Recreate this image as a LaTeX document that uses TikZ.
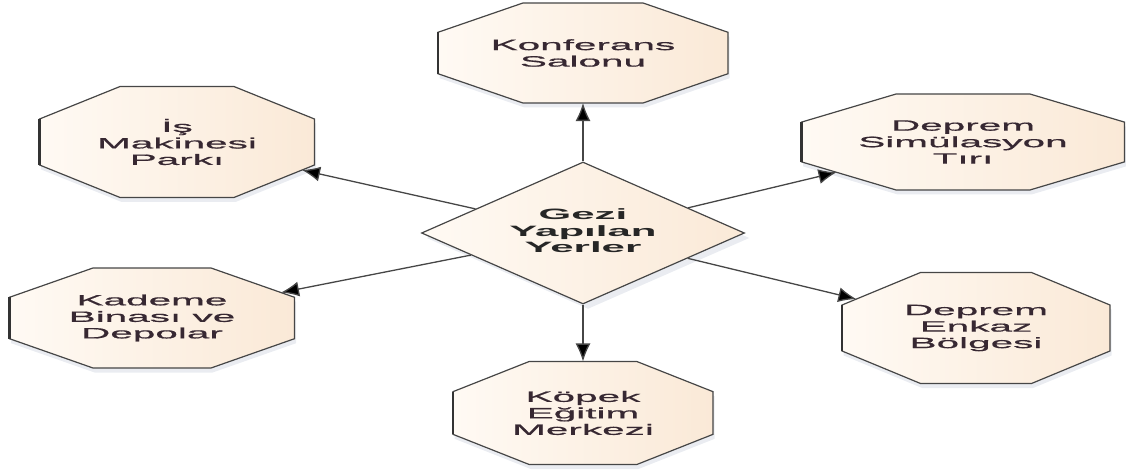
\documentclass[tikz,border=0pt]{standalone}
\usepackage{fontspec}
\usepackage{graphicx}
\setmainfont{Liberation Sans}
\newfontfamily\boxfont[FakeStretch=2.7,FakeBold=0.8]{Liberation Sans}
\usetikzlibrary{shapes.geometric,shadows,arrows.meta}

\definecolor{peach}{RGB}{250,233,215}
\definecolor{peachlight}{RGB}{255,250,244}
\definecolor{edgegray}{RGB}{70,70,70}
\definecolor{labeltext}{RGB}{55,40,50}
\definecolor{shadowblue}{RGB}{170,180,200}

% stretched bold lines for the centre
\newcommand{\hubtext}[1]{\scalebox{2.8}[1]{\fontsize{15}{16.5}\selectfont\bfseries
  \begin{tabular}{@{}c@{}}#1\end{tabular}}}

\tikzset{
  place/.style 2 args={regular polygon, regular polygon sides=8,
    minimum size=100pt, inner sep=0pt, outer sep=0pt,
    xscale=#1/92.388, yscale=#2/92.388, transform shape,
    draw=edgegray, line width=1.2pt,
    left color=peachlight, right color=peach,
    drop shadow={shadow xshift=1.6pt, shadow yshift=-4.5pt, opacity=0.25,
      fill=shadowblue},
    append after command={
      (\tikzlastnode.corner 3) edge[draw=black!80, line width=2.6pt]
      (\tikzlastnode.corner 4)}},
  placetext/.style={align=center, text=labeltext,
    font=\boxfont\fontsize{15}{16.5}\selectfont},
  hub/.style={diamond, aspect=2.27, draw=edgegray, line width=1.2pt,
    left color=peachlight, right color=peach, inner sep=0pt,
    text=black!85,
    minimum width=323pt, minimum height=142pt,
    drop shadow={shadow xshift=5pt, shadow yshift=-5pt, opacity=0.25,
      fill=shadowblue}},
  link/.style={draw=edgegray, line width=1.3pt,
    -{Latex[length=18pt,width=15pt,fill=black]}}
}

\begin{document}
\begin{tikzpicture}[x=1pt,y=-1pt]
    \useasboundingbox (0,0) rectangle (1126,470);

    % Places
    \node [place={290}{100}] (konferans)  at (583, 53) {};
    \node [place={275}{111}] (makine)     at (177,142) {};
    \node [place={285}{100}] (kademe)     at (152,318) {};
    \node [place={323}{96}]  (simulasyon) at (963,142) {};
    \node [place={268}{111}] (enkaz)      at (976,328) {};
    \node [place={260}{103}] (kopek)      at (583,413) {};

    % Place names
    \node [placetext] (konferanstext)  at (konferans)  {Konferans\\Salonu};
    \node [placetext] (makinetext)     at (makine)     {İş\\Makinesi\\Parkı};
    \node [placetext] (kademetext)     at (kademe)     {Kademe\\Binası ve\\Depolar};
    \node [placetext] (simulasyontext) at (simulasyon) {Deprem\\Simülasyon\\Tırı};
    \node [placetext] (enkaztext)      at (enkaz)      {Deprem\\Enkaz\\Bölgesi};
    \node [placetext] (kopektext)      at (kopek)      {Köpek\\Eğitim\\Merkezi};

    % Center
    \node [hub] (gezi) at (583,233) {\hubtext{Gezi\\Yapılan\\Yerler}};

    % Arrows
    \draw [link] (gezi) -- (konferans);
    \draw [link] (gezi) -- (makine);
    \draw [link] (gezi) -- (kademe);
    \draw [link] (gezi) -- (simulasyon);
    \draw [link] (gezi) -- (enkaz);
    \draw [link] (gezi) -- (kopek);
\end{tikzpicture}
\end{document}
